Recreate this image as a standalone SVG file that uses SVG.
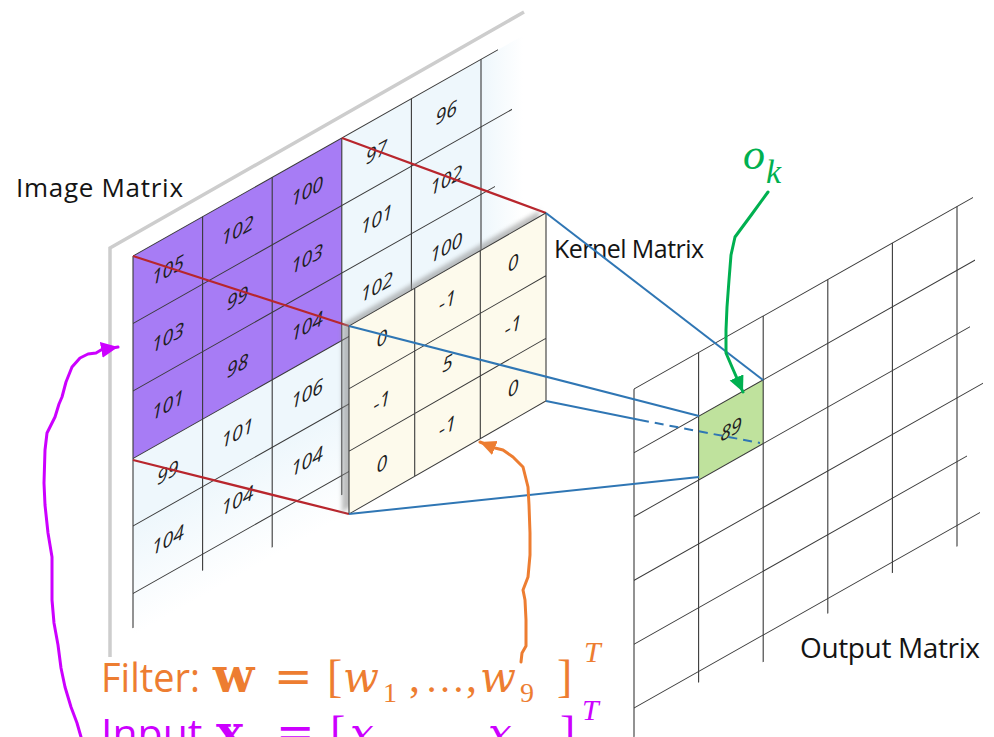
<svg xmlns="http://www.w3.org/2000/svg" width="994" height="737" viewBox="0 0 994 737">
<style>
.g{stroke:#3a3a3a;stroke-width:1.1;fill:none}
.num{font-family:"Open Sans","Liberation Sans",sans-serif;font-style:italic;font-size:19.5px;fill:#1e1e1e;text-anchor:middle}
.lbl{font-family:"Open Sans","Liberation Sans",sans-serif;fill:#141414}
.red{stroke:#b8262d;stroke-width:2.2;fill:none}
.blue{stroke:#2f76b4;stroke-width:2;fill:none}
.hand{fill:none;stroke-width:3;stroke-linejoin:round;stroke-linecap:round}
.math{font-family:"Liberation Serif","DejaVu Serif",serif}
.dj{font-family:"DejaVu Serif","Liberation Serif",serif}
</style>
<defs>
<linearGradient id="fadeV" gradientUnits="userSpaceOnUse" x1="0" y1="270" x2="0" y2="380">
<stop offset="0" stop-color="#eef7fc" stop-opacity="1"/>
<stop offset="1" stop-color="#eef7fc" stop-opacity="0"/>
</linearGradient>
<linearGradient id="fadeH" gradientUnits="userSpaceOnUse" x1="348" y1="0" x2="390" y2="0">
<stop offset="0" stop-color="#eef7fc" stop-opacity="1"/>
<stop offset="1" stop-color="#eef7fc" stop-opacity="0"/>
</linearGradient>
<filter id="blur" x="-20%" y="-20%" width="140%" height="140%"><feGaussianBlur stdDeviation="2.5"/></filter>
<marker id="mMag" markerUnits="userSpaceOnUse" markerWidth="20" markerHeight="18" refX="17" refY="8" orient="auto"><path d="M0,0 L17,8 L0,16 z" fill="#cc00ff"/></marker>
<marker id="mOr" markerUnits="userSpaceOnUse" markerWidth="20" markerHeight="18" refX="16" refY="7.5" orient="auto"><path d="M0,0 L16,7.5 L0,15 z" fill="#ed7d31"/></marker>
<marker id="mGr" markerUnits="userSpaceOnUse" markerWidth="20" markerHeight="18" refX="16" refY="7.5" orient="auto"><path d="M0,0 L16,7.5 L0,15 z" fill="#00b050"/></marker>
</defs>
<rect width="994" height="737" fill="#ffffff"/>

<g id="image-matrix">
<path d="M524,12 L110,248 L110,657" fill="none" stroke="#cdcdcd" stroke-width="3.5"/>
<g transform="matrix(1,-0.565,0,1,133,256)">
<rect x="0" y="0" width="348" height="272" fill="#eef7fc"/>
<rect x="0" y="270" width="348" height="110" fill="url(#fadeV)"/>
<rect x="348" y="0" width="42" height="190" fill="url(#fadeH)"/>
<rect x="0" y="0" width="208.8" height="202.5" fill="#a77cf5"/>
<path class="g" d="M0,0V372 M69.6,0V354 M139.2,0V370 M208.8,0V357 M278.4,0V340 M348,0V340"/>
<path class="g" d="M0,0H365 M0,67.5H379 M0,135H362 M0,202.5H348 M0,270H348 M0,337.5H348"/>
<text class="num" x="34.8" y="40.5">105</text>
<text class="num" x="104.4" y="40.5">102</text>
<text class="num" x="174" y="40.5">100</text>
<text class="num" x="243.6" y="40.5">97</text>
<text class="num" x="313.2" y="40.5">96</text>
<text class="num" x="34.8" y="108">103</text>
<text class="num" x="104.4" y="108">99</text>
<text class="num" x="174" y="108">103</text>
<text class="num" x="243.6" y="108">101</text>
<text class="num" x="313.2" y="108">102</text>
<text class="num" x="34.8" y="175.5">101</text>
<text class="num" x="104.4" y="175.5">98</text>
<text class="num" x="174" y="175.5">104</text>
<text class="num" x="243.6" y="175.5">102</text>
<text class="num" x="313.2" y="175.5">100</text>
<text class="num" x="34.8" y="243">99</text>
<text class="num" x="104.4" y="243">101</text>
<text class="num" x="174" y="243">106</text>
<text class="num" x="34.8" y="310.5">104</text>
<text class="num" x="104.4" y="310.5">104</text>
<text class="num" x="174" y="310.5">104</text>
</g>
<text class="lbl" x="16" y="197" font-size="26" textLength="167" lengthAdjust="spacing">Image Matrix</text>
</g>

<g id="red-connectors">
<path class="red" d="M133,256 L349,326 M342,138 L546,213 M133,460 L349,514"/>
</g>

<g id="kernel-matrix">
<g transform="matrix(1,-0.574,0,1,349,326)">
<rect x="-7" y="-6" width="197" height="188" fill="#8a8a8a" opacity="0.55" filter="url(#blur)"/>
<rect x="0" y="0" width="197" height="188" fill="#fdfaec"/>
<path class="g" d="M0,0V188 M65.7,0V188 M131.3,0V188 M197,0V188 M0,0H197 M0,62.7H197 M0,125.3H197 M0,188H197"/>
<text class="num" x="32.8" y="38">0</text>
<text class="num" x="98.5" y="38">-1</text>
<text class="num" x="164.2" y="38">0</text>
<text class="num" x="32.8" y="100.7">-1</text>
<text class="num" x="98.5" y="100.7">5</text>
<text class="num" x="164.2" y="100.7">-1</text>
<text class="num" x="32.8" y="163.4">0</text>
<text class="num" x="98.5" y="163.4">-1</text>
<text class="num" x="164.2" y="163.4">0</text>
</g>
<text class="lbl" x="554" y="258" font-size="25" textLength="150" lengthAdjust="spacing">Kernel Matrix</text>
</g>

<g id="output-matrix">
<g transform="matrix(1,-0.565,0,1,634,389)">
<rect x="64.6" y="63.8" width="64.6" height="63.8" fill="#bfe29d"/>
<path class="g" d="M0,0V348 M64.6,0V330 M129.2,0V346 M193.8,0V334 M258.4,0V330 M323,0V340"/>
<path class="g" d="M0,0H339 M0,63.8H341 M0,127.6H336 M0,191.4H349 M0,255.2H333 M0,319H346"/>
<text class="num" x="96.9" y="102">89</text>
</g>
<text class="lbl" x="800" y="658" font-size="28" textLength="180" lengthAdjust="spacing">Output Matrix</text>
</g>

<g id="blue-connectors">
<path class="blue" d="M349,326 L699,416"/>
<path class="blue" d="M546,213 L763,380"/>
<path class="blue" d="M546,401 L640,420"/>
<path class="blue" d="M640,420 L760,443" stroke-dasharray="9 6"/>
<path class="blue" d="M349,514 L699,477"/>
</g>

<g id="annotation-arrows">
<path class="hand" stroke="#cc00ff" marker-end="url(#mMag)" d="M81,737 L77,723 L71,707 L65,687 L61,668 L58,645 L54,623 L52,600 L52,578 L52,557 L48,533 L45,505 L44,483 L45,450 L47,433 L55,417 L59,404 L62,397 L66,382 L68,377 L72,367 L80,358 L88,354 L96,353 L101,350 L118,347"/>
<path class="hand" stroke="#ed7d31" marker-end="url(#mOr)" d="M521,662 L522,653 L526,646 L526,620 L525,600 L523,590 L528,577 L530,555 L530,533 L529,505 L528,487 L523,467 L513,457 L503,450 L495,448 L480,442"/>
<path class="hand" stroke="#00b050" marker-end="url(#mGr)" d="M768,192 L752,214 L735,237 L731,255 L729,280 L727,307 L726,330 L726,353 L732,367 L743,392"/>
</g>

<g id="labels-math">
<text class="math" x="743" y="169" font-size="44" font-style="italic" fill="#00b050">o</text>
<text class="math" x="766" y="183" font-size="34" font-style="italic" fill="#00b050">k</text>

<g fill="#ed7d31">
<text x="101" y="692" font-family="'Open Sans','Liberation Sans',sans-serif" font-size="41" textLength="99" lengthAdjust="spacingAndGlyphs">Filter:</text>
<text class="dj" x="213" y="692" font-size="48" font-weight="bold">w</text>
<text class="dj" x="274" y="692" font-size="46">=</text>
<text class="math" x="327" y="692" font-size="46">[</text>
<text class="dj" x="343" y="692" font-size="42" font-style="italic">w</text>
<text class="math" x="383" y="702" font-size="28">1</text>
<text class="math" x="409" y="692" font-size="44">,</text>
<text class="math" x="425" y="692" font-size="40">…</text>
<text class="math" x="466" y="692" font-size="44">,</text>
<text class="dj" x="480" y="692" font-size="42" font-style="italic">w</text>
<text class="math" x="520" y="702" font-size="28">9</text>
<text class="math" x="557" y="692" font-size="46">]</text>
<text class="math" x="584" y="662" font-size="30" font-style="italic">T</text>
</g>

<g fill="#cc00ff">
<text x="101" y="748" font-family="'Open Sans','Liberation Sans',sans-serif" font-size="41">Input</text>
<text class="dj" x="216" y="748" font-size="46" font-weight="bold">x</text>
<text class="dj" x="276" y="748" font-size="46">=</text>
<text class="math" x="330" y="748" font-size="46">[</text>
<text class="dj" x="350" y="748" font-size="42" font-style="italic">x</text>
<text class="dj" x="488" y="748" font-size="42" font-style="italic">x</text>
<text class="math" x="560" y="748" font-size="46">]</text>
<text class="math" x="582" y="720" font-size="30" font-style="italic">T</text>
</g>
</g>
</svg>
